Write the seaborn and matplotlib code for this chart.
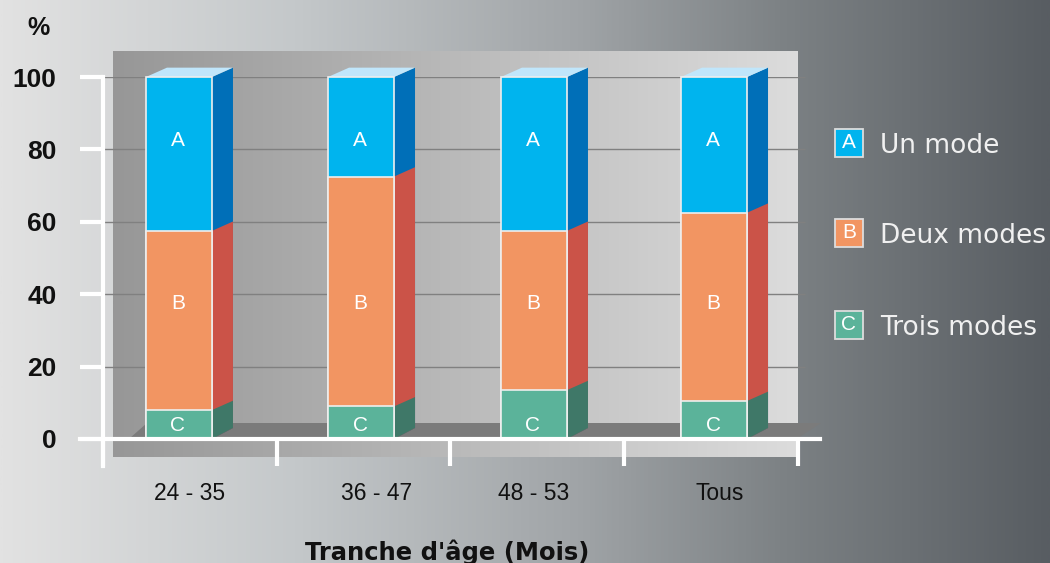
import numpy as np
import matplotlib
matplotlib.use("Agg")
import matplotlib.pyplot as plt
import matplotlib.transforms as mtrans
from matplotlib.colors import LinearSegmentedColormap
from matplotlib.patches import Polygon, Rectangle
import seaborn as sns

# Daten
categories = ["24 - 35", "36 - 47", "48 - 53", "Tous"]
un_mode = [42.5, 27.5, 42.5, 37.5]
deux_modes = [49.5, 63.5, 44, 52]
trois_modes = [8, 9, 13.5, 10.5]
letters = ["A", "B", "C"]
legend_names = ["Un mode", "Deux modes", "Trois modes"]
y_ticks = [0, 20, 40, 60, 80, 100]

front_colors = ["#00B4EE", "#F29562", "#5BB39A"]
side_colors = ["#006FB8", "#CB5348", "#3F7868"]
top_color = "#C0E6FB"

# Versatz der Balken und Beschriftungen (Pixel)
bar_shift = [-10.9, -2.6, -3.4, 2.9]
label_shift = [0, 9, -3, 6]
letter_y = [82.5, 37.5, 3.6]

sns.set_theme(style="white")
plt.rcParams["font.family"] = ["Liberation Sans", "DejaVu Sans"]

W, H = 1050, 563
fig = plt.figure(figsize=(W / 100, H / 100), dpi=100)

# Hintergrund in Pixelkoordinaten
bg = fig.add_axes([0, 0, 1, 1], zorder=0)
bg.axis("off")
bg_cmap = LinearSegmentedColormap.from_list(
    "bg", [(0, "#e2e2e2"), (0.28, "#c4c8ca"), (0.55, "#a0a4a7"),
           (0.75, "#7c8184"), (1, "#585d62")])
bg.imshow(np.linspace(0, 1, 512)[None, :], cmap=bg_cmap, extent=[0, W, H, 0], aspect="auto")
panel_cmap = LinearSegmentedColormap.from_list("panel", ["#979797", "#dcdcdc"])
bg.imshow(np.linspace(0, 1, 256)[None, :], cmap=panel_cmap, extent=[113, 798, 457, 51], aspect="auto")
bg.set_xlim(0, W)
bg.set_ylim(H, 0)
bg.add_patch(Polygon([(130, 438), (147, 423), (821, 423), (798, 438)], color="#7b7b7b", lw=0))

# Hauptachse: x-Achse endet bei 820 px, y-Achse bei 466 px
px_per_cat = 173.75
ax_left, ax_right, ax_top, ax_bottom = 103, 820, 77, 466
ax = fig.add_axes([ax_left / W, 1 - ax_bottom / H, (ax_right - ax_left) / W, (ax_bottom - ax_top) / H], zorder=1)
ax.patch.set_alpha(0)

# Gestapelte Balken: von hinten nach vorne
cum_c = np.array(trois_modes)
cum_b = cum_c + np.array(deux_modes)
cum_a = cum_b + np.array(un_mode)
for vals, col in zip([cum_a, cum_b, cum_c], front_colors):
    sns.barplot(x=categories, y=vals, color=col, width=66 / px_per_cat, saturation=1,
                edgecolor="#eeeeee", linewidth=1.2, ax=ax, zorder=3)

xlim = (-0.5, -0.5 + (ax_right - ax_left) / px_per_cat)
px_per_unit = 3.62
ax.set_xlim(xlim)
ax.set_ylim(-(ax_bottom - 439) / px_per_unit, (439 - ax_top) / px_per_unit)

# Balken verschieben und Seitenflaechen ergaenzen
n = len(categories)
dx = 21 / px_per_cat
dy = 11 / px_per_unit
for s in range(3):
    for i in range(n):
        p = ax.patches[s * n + i]
        p.set_x(p.get_x() + bar_shift[i] / px_per_cat)
        p.set_clip_on(False)
        x0 = p.get_x()
        x1 = x0 + p.get_width()
        h = p.get_height()
        ax.add_patch(Polygon([(x1, 0), (x1 + dx, dy), (x1 + dx, h + dy * 0.85), (x1, h)],
                             color=side_colors[s], lw=0, zorder=2.9, clip_on=False))
        if s == 0:
            ax.add_patch(Polygon([(x0, h), (x0 + dx, h + dy * 0.85), (x1 + dx, h + dy * 0.85), (x1, h)],
                                 color=top_color, lw=0, zorder=2.9, clip_on=False))
        ax.text((x0 + x1) / 2 - 1 / px_per_cat, letter_y[s], letters[s],
                color="white", fontsize=15, ha="center", va="center", zorder=4)

# Gitterlinien und Achsen
ax.hlines(y_ticks[1:], xlim[0], 3.54, color="#808080", lw=1, zorder=1)
for side in ["top", "right"]:
    ax.spines[side].set_visible(False)
for side in ["left", "bottom"]:
    ax.spines[side].set_color("white")
    ax.spines[side].set_linewidth(3)
    ax.spines[side].set_zorder(5)
ax.spines["bottom"].set_position(("data", 0))
ax.spines["bottom"].set_bounds(-0.5 - 23 / px_per_cat, xlim[1])

ax.set_yticks(y_ticks)
ax.set_yticklabels([str(v) for v in y_ticks], fontsize=19, fontweight="bold", color="#111111")
ax.tick_params(axis="y", left=True, length=16.5, width=3, color="white", pad=17)

ax.set_xticks([-0.5, 0.5, 1.5, 2.5, 3.5])
ax.set_xticklabels([])
ax.set_xticks(range(n), minor=True)
ax.set_xticklabels(categories, minor=True, fontsize=16.5, color="#111111")
ax.tick_params(axis="x", which="major", bottom=True, length=19.5, width=3, color="white")
ax.tick_params(axis="x", which="minor", bottom=False, length=0, pad=31)
for lab, shift in zip(ax.xaxis.get_minorticklabels(), label_shift):
    lab.set_transform(lab.get_transform() + mtrans.ScaledTranslation(shift / 72, 0, fig.dpi_scale_trans))

bg.text(38, 28, "%", fontsize=18, fontweight="bold", color="#111111", ha="center", va="center")
bg.text(447, 552, "Tranche d'âge (Mois)", fontsize=17.5, fontweight="bold", family="DejaVu Sans",
        color="#111111", ha="center", va="center")

# Legende
legend_y = [143, 233, 325]
for name, letter, col, y in zip(legend_names, letters, front_colors, legend_y):
    bg.add_patch(Rectangle((835, y - 14), 28, 28, facecolor=col, edgecolor="#dddddd", lw=1.3))
    bg.text(849, y, letter, color="white", fontsize=15, ha="center", va="center")
    bg.text(880, y + 3, name, color="#f0f0f0", fontsize=19, family="DejaVu Sans", ha="left", va="center")

fig.savefig("out.png", dpi=100)
